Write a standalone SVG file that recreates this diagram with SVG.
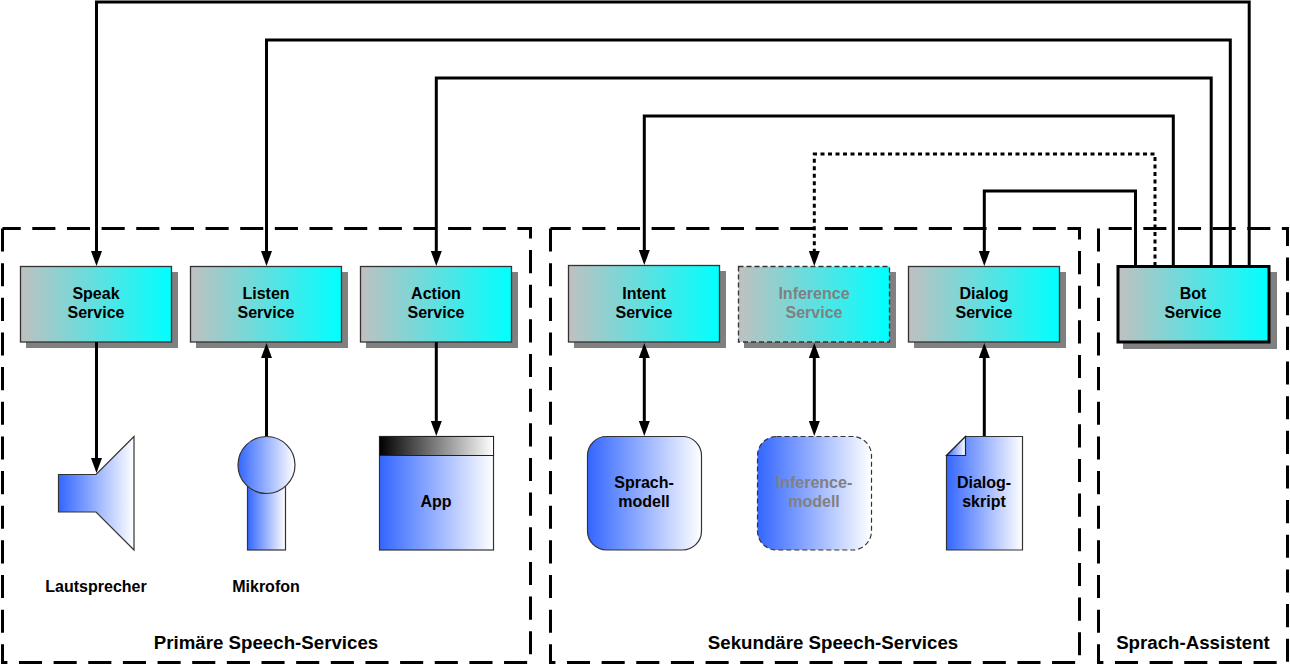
<svg xmlns="http://www.w3.org/2000/svg" width="1290" height="665" viewBox="0 0 1290 665">
<style>
text{font-family:"Liberation Sans",Arial,sans-serif;font-weight:700;font-size:16px;fill:#000;text-anchor:middle}
.t2{font-size:18.700px}
.frame{fill:none;stroke:#000;stroke-width:3;stroke-dasharray:23.100 11.550}
.svc{fill:url(#cy);stroke:#333;stroke-width:1.3}
.sh{fill:#808080;stroke:none}
.blue{fill:url(#bl);stroke:#333;stroke-width:1.2}
.c{fill:none;stroke:#000;stroke-width:3}
.dot{stroke-dasharray:4 3.500}
.grey{fill:#808080}
.dsh{stroke-dasharray:5 3}
</style>
<defs>
<linearGradient id="cy"><stop offset="0" stop-color="#c0c0c0"/><stop offset="1" stop-color="#0ff"/></linearGradient>
<linearGradient id="bl"><stop offset="0" stop-color="#3366ff"/><stop offset="1" stop-color="#fff"/></linearGradient>
<linearGradient id="bk"><stop offset="0" stop-color="#000"/><stop offset="1" stop-color="#fff"/></linearGradient>
<marker id="a" markerUnits="userSpaceOnUse" viewBox="0 0 15 11" refX="5" refY="5.500" markerWidth="15" markerHeight="11" orient="auto-start-reverse"><path d="M0 0L15 5.500L0 11Z" fill="#000"/></marker>
</defs>
<g id="frames">
<path class="frame" d="M2.500 228.500V662.500H530.500V228.500H2.500"/>
<path class="frame" d="M550.500 228.500V662.500H1079.500V228.500H550.500"/>
<path class="frame" d="M1098.500 228.500V662.500H1287.500V228.500H1098.500"/>
</g>
<g id="speak-service"><rect class="sh" x="26" y="272" width="152" height="76"/><rect class="svc" x="20.500" y="266.500" width="151" height="75.500"/><text x="96" y="299">Speak</text><text x="96" y="318">Service</text></g>
<g id="listen-service"><rect class="sh" x="196" y="272" width="152" height="76"/><rect class="svc" x="190.500" y="266.500" width="151" height="75.500"/><text x="266" y="299">Listen</text><text x="266" y="318">Service</text></g>
<g id="action-service"><rect class="sh" x="366" y="272" width="152" height="76"/><rect class="svc" x="360.500" y="266.500" width="151" height="75.500"/><text x="436" y="299">Action</text><text x="436" y="318">Service</text></g>
<g id="intent-service"><rect class="sh" x="574" y="271" width="152" height="77"/><rect class="svc" x="568.500" y="265.500" width="151" height="76.500"/><text x="644" y="299">Intent</text><text x="644" y="318">Service</text></g>
<g id="inference-service"><rect class="sh" x="744" y="272" width="152" height="76"/><rect class="svc dsh" x="738.500" y="266.500" width="151" height="75.500"/><text class="grey" x="814" y="299">Inference</text><text class="grey" x="814" y="318">Service</text></g>
<g id="dialog-service"><rect class="sh" x="914" y="272" width="152" height="76"/><rect class="svc" x="908.500" y="266.500" width="151" height="75.500"/><text x="984" y="299">Dialog</text><text x="984" y="318">Service</text></g>
<g id="bot-service"><rect class="sh" x="1123" y="272" width="154" height="77"/><rect class="svc" style="stroke:#000;stroke-width:3" x="1118" y="266.500" width="151" height="75.500"/><text x="1193" y="299">Bot</text><text x="1193" y="318">Service</text></g>
<g id="connectors">
<path class="c" d="M1249.200 266V2H96.500V256" marker-end="url(#a)"/>
<path class="c" d="M1230.300 266V40H266.500V256" marker-end="url(#a)"/>
<path class="c" d="M1211.200 266V78H436.300V256" marker-end="url(#a)"/>
<path class="c" d="M1173.300 266V116H644.300V255" marker-end="url(#a)"/>
<path class="c dot" d="M1155 266V154H814.300V256" marker-end="url(#a)"/>
<path class="c" d="M1135.500 266V191H984.300V256" marker-end="url(#a)"/>
<path class="c" d="M96.500 342V463" marker-end="url(#a)"/>
<path class="c" d="M266.500 437V353" marker-end="url(#a)"/>
<path class="c" d="M436.300 342V426" marker-end="url(#a)"/>
<path class="c" d="M644.300 353V426" marker-start="url(#a)" marker-end="url(#a)"/>
<path class="c" d="M814.300 353V426" marker-start="url(#a)" marker-end="url(#a)"/>
<path class="c" d="M984.300 437V353" marker-end="url(#a)"/>
</g>
<g id="lautsprecher"><path class="blue" d="M58.500 474.500H96L134 436.500V550L96 512H58.500Z"/><text x="96" y="592">Lautsprecher</text></g>
<g id="mikrofon"><rect class="blue" x="247.500" y="484" width="38" height="66"/><circle class="blue" cx="266.500" cy="465" r="28.500"/><text x="266" y="592">Mikrofon</text></g>
<g id="app"><rect class="blue" x="379.500" y="436.500" width="114" height="113.500"/><rect x="379.500" y="436.500" width="114" height="19" fill="url(#bk)" stroke="#222" stroke-width="1"/><text x="436" y="507">App</text></g>
<g id="sprachmodell"><rect class="blue" x="587.500" y="436.500" width="114" height="113.500" rx="19"/><text x="644" y="488">Sprach-</text><text x="644" y="507">modell</text></g>
<g id="inferencemodell"><rect class="blue dsh" x="757.500" y="436.500" width="114" height="113.500" rx="19"/><text class="grey" x="814" y="488">Inference-</text><text class="grey" x="814" y="507">modell</text></g>
<g id="dialogskript"><path class="blue" d="M965.500 436.500H1022.500V550H946.500V455.500Z"/><path d="M965.500 436.500V455.500H946.500Z" fill="url(#bl)" stroke="#222" stroke-width="1.200"/><text x="984" y="488">Dialog-</text><text x="984" y="507">skript</text></g>
<g id="labels">
<text class="t2" x="266" y="649">Primäre Speech-Services</text>
<text class="t2" x="833" y="649">Sekundäre Speech-Services</text>
<text class="t2" x="1193" y="649">Sprach-Assistent</text>
</g>
</svg>
